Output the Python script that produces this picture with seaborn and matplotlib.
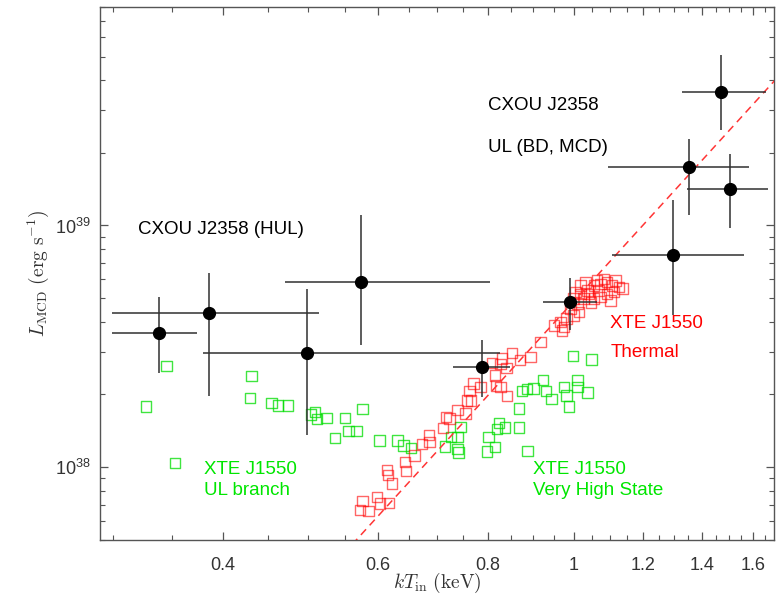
import numpy as np
import pandas as pd
import seaborn as sns
import matplotlib
matplotlib.use('Agg')
import matplotlib.pyplot as plt
from matplotlib.ticker import FixedLocator, FixedFormatter, NullFormatter

# CXOU J2358 (kT_in in keV, L in 1e38 erg/s), asymmetric error bounds
cx_kt = [0.338, 0.386, 0.498, 0.574, 0.788, 0.992, 1.296, 1.354, 1.504, 1.469]
cx_kt_lo = [0.299, 0.299, 0.380, 0.470, 0.730, 0.924, 1.107, 1.093, 1.347, 1.327]
cx_kt_hi = [0.374, 0.514, 0.826, 0.804, 0.848, 1.064, 1.560, 1.581, 1.665, 1.653]
cx_lum = [3.58, 4.33, 2.96, 5.81, 2.59, 4.81, 7.52, 17.4, 14.1, 35.8]
cx_lum_lo = [2.45, 1.98, 1.36, 3.19, 1.95, 3.68, 4.25, 11.0, 9.72, 24.9]
cx_lum_hi = [5.04, 6.33, 5.44, 11.0, 3.35, 6.04, 12.8, 22.9, 19.7, 50.9]

# XTE J1550 thermal state (red)
th_kt = [0.572, 0.576, 0.585, 0.598, 0.603, 0.617, 0.614, 0.616, 0.622, 0.644,
         0.645, 0.660, 0.673, 0.685, 0.686, 0.711, 0.717, 0.723, 0.738, 0.754,
         0.757, 0.765, 0.762, 0.770, 0.784, 0.808, 0.815, 0.817, 0.826, 0.826,
         0.839, 0.840, 0.852, 0.870, 0.894, 0.917, 0.950, 0.967, 0.971, 0.975,
         1.000, 1.014, 1.010, 1.005, 1.018, 1.000, 1.027, 1.037, 1.041, 1.055,
         1.055, 1.064, 1.073, 1.073, 1.083, 1.092, 1.092, 1.106, 1.111, 1.126,
         1.137, 1.046, 1.102, 1.032, 0.982, 0.992, 1.067, 1.116, 1.018, 0.830]
th_lum = [0.666, 0.725, 0.659, 0.754, 0.708, 0.712, 0.972, 0.929, 0.856, 1.05,
          0.965, 1.12, 1.25, 1.36, 1.27, 1.45, 1.61, 1.59, 1.72, 1.67,
          1.89, 1.89, 2.07, 2.22, 2.15, 2.70, 2.40, 2.18, 2.68, 2.15,
          2.58, 1.97, 2.97, 2.77, 2.86, 3.29, 3.86, 3.99, 3.68, 3.80,
          4.25, 4.38, 4.75, 5.30, 5.22, 4.98, 4.98, 5.39, 5.22, 5.65,
          4.98, 5.93, 5.74, 5.05, 6.02, 5.83, 5.22, 5.65, 5.30, 5.56,
          5.49, 4.81, 4.90, 5.81, 4.13, 4.54, 5.39, 5.93, 5.65, 2.82]

# XTE J1550 UL branch + very high state (green)
vh_kt = [0.327, 0.345, 0.353, 0.431, 0.429, 0.454, 0.462, 0.474, 0.503, 0.509,
         0.511, 0.524, 0.550, 0.576, 0.555, 0.567, 0.536, 0.602, 0.631, 0.641,
         0.654, 0.715, 0.726, 0.738, 0.744, 0.738, 0.740, 0.801, 0.815, 0.797,
         0.823, 0.819, 0.836, 0.867, 0.887, 0.867, 0.874, 0.886, 0.901, 0.923,
         0.931, 0.944, 0.975, 0.982, 0.988, 1.011, 1.011, 1.037, 0.999, 1.048]
vh_lum = [1.78, 2.62, 1.04, 2.38, 1.93, 1.84, 1.80, 1.80, 1.65, 1.69,
          1.58, 1.60, 1.60, 1.74, 1.41, 1.41, 1.32, 1.29, 1.29, 1.23,
          1.20, 1.22, 1.33, 1.33, 1.47, 1.19, 1.15, 1.33, 1.21, 1.16,
          1.52, 1.44, 1.46, 1.46, 1.17, 1.75, 2.07, 2.11, 2.12, 2.29,
          2.07, 1.91, 2.15, 1.98, 1.78, 2.30, 2.15, 2.04, 2.88, 2.79]

# L = norm * T^4 relation
l_norm = 4.85e38

x_major = [0.4, 0.6, 0.8, 1.0, 1.2, 1.4, 1.6]
x_labels = ['0.4', '0.6', '0.8', '1', '1.2', '1.4', '1.6']

sns.set_style('ticks')
plt.rcParams['font.family'] = ['Liberation Sans', 'DejaVu Sans']

fig = plt.figure(figsize=(7.82, 5.98), dpi=100)
ax = fig.add_axes([0.128, 0.097, 0.862, 0.891])

scale = 1e38
green = pd.DataFrame({'kt': vh_kt, 'lum': np.array(vh_lum) * scale})
red = pd.DataFrame({'kt': th_kt, 'lum': np.array(th_lum) * scale})

sns.scatterplot(data=green, x='kt', y='lum', marker='s', s=56, facecolor='none',
                edgecolor='#00dd00', linewidth=1.0, alpha=0.75, ax=ax, zorder=2)
sns.scatterplot(data=red, x='kt', y='lum', marker='s', s=56, facecolor='none',
                edgecolor='#ff0000', linewidth=1.0, alpha=0.6, ax=ax, zorder=3)

t_grid = np.array([0.5, 1.8])
sns.lineplot(x=t_grid, y=l_norm * t_grid ** 4, color='#ff3535', lw=1.1,
             dashes=False, ax=ax, zorder=4)
ax.lines[-1].set_dashes([5, 3.5])

cx_kt_a = np.array(cx_kt)
cx_lum_a = np.array(cx_lum) * scale
xerr = [cx_kt_a - np.array(cx_kt_lo), np.array(cx_kt_hi) - cx_kt_a]
yerr = [cx_lum_a - np.array(cx_lum_lo) * scale, np.array(cx_lum_hi) * scale - cx_lum_a]
ax.errorbar(cx_kt_a, cx_lum_a, xerr=xerr, yerr=yerr, fmt='o', color='black',
            ms=8.5, ecolor='#303030', elinewidth=1.1, capsize=0, zorder=5)

ax.set_xscale('log')
ax.set_yscale('log')
ax.set_xlim(0.29, 1.69)
ax.set_ylim(5e37, 8e39)

ax.xaxis.set_major_locator(FixedLocator(x_major))
ax.xaxis.set_major_formatter(FixedFormatter(x_labels))
x_minor = [v for v in np.arange(0.30, 1.70, 0.05) if min(abs(v - m) for m in x_major) > 1e-3]
ax.xaxis.set_minor_locator(FixedLocator(x_minor))
ax.xaxis.set_minor_formatter(NullFormatter())

ax.tick_params(which='both', direction='in', top=True, right=True,
               colors='#555555', labelcolor='#333333', labelsize=13)
ax.tick_params(which='major', length=6, width=0.9)
ax.tick_params(which='minor', length=3.5, width=0.8)
ax.tick_params(axis='x', which='both', pad=12)
ax.tick_params(axis='y', which='both', pad=7)
for sp in ax.spines.values():
    sp.set_color('#555555')
    sp.set_linewidth(1.0)

ax.set_xlabel(r'$kT_{\rm in}\ ({\rm keV})$', fontsize=14, math_fontfamily='cm',
              color='#333333', labelpad=-2)
ax.set_ylabel(r'$L_{\rm MCD}\ ({\rm erg\ s^{-1}})$', fontsize=14, math_fontfamily='cm',
              color='#333333', labelpad=3)

txt = dict(transform=ax.transAxes, fontsize=13.5, ha='left', va='center')
ax.text(0.056, 0.583, 'CXOU J2358 (HUL)', color='black', **txt)
ax.text(0.576, 0.816, 'CXOU J2358', color='black', **txt)
ax.text(0.576, 0.737, 'UL (BD, MCD)', color='black', **txt)
ax.text(0.757, 0.407, 'XTE J1550', color='#ff0000', **txt)
ax.text(0.757, 0.351, 'Thermal', color='#ff0000', **txt)
ax.text(0.642, 0.133, 'XTE J1550', color='#00e600', **txt)
ax.text(0.642, 0.092, 'Very High State', color='#00e600', **txt)
ax.text(0.154, 0.133, 'XTE J1550', color='#00e600', **txt)
ax.text(0.154, 0.092, 'UL branch', color='#00e600', **txt)

fig.savefig('out.png', dpi=100)
